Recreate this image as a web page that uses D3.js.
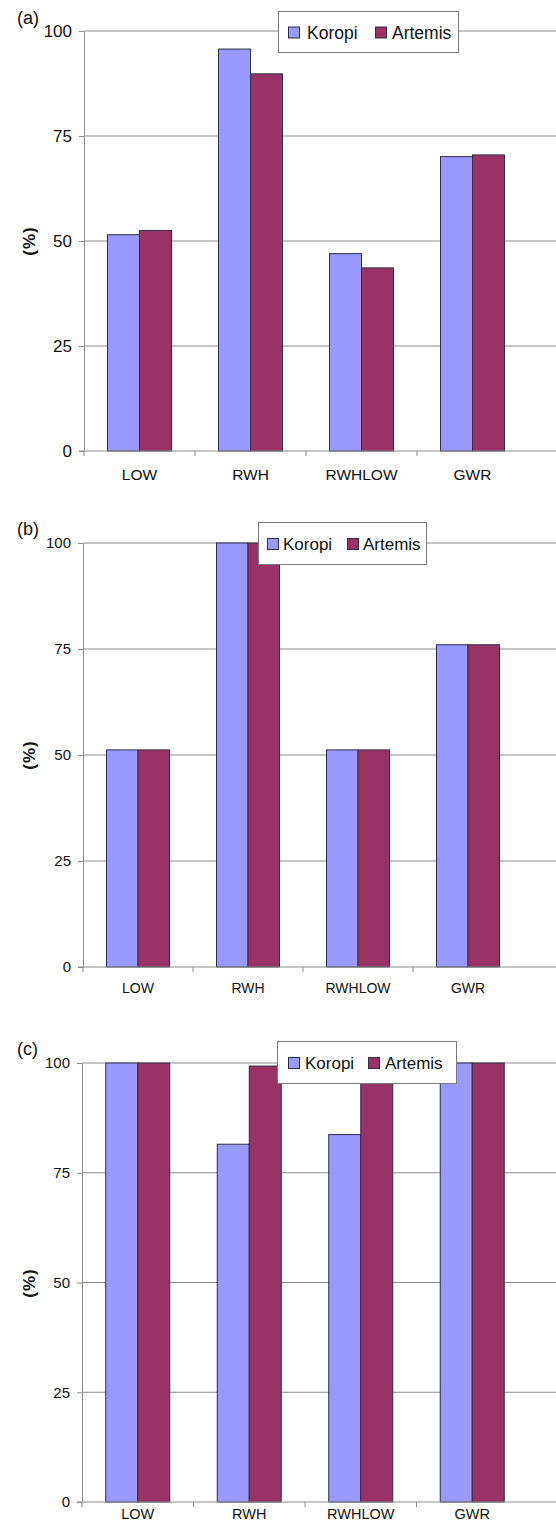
<!DOCTYPE html>
<html>
<head>
<meta charset="utf-8">
<script src="https://cdn.jsdelivr.net/npm/d3@7"></script>
<style>
  html, body { margin: 0; padding: 0; background: #ffffff; }
  svg { display: block; font-family: "Liberation Sans", Arial, sans-serif; }
</style>
</head>
<body>
<svg id="chart" width="556" height="1530"></svg>
<script>
// ---- data ----
const categories = ["LOW", "RWH", "RWHLOW", "GWR"];
const seriesNames = ["Koropi", "Artemis"];
const yTicks = [0, 25, 50, 75, 100];
const panelLabels = ["(a)", "(b)", "(c)"];
const yAxisTitle = "(%)";

const koropiA = [51.5, 95.7, 47.0, 70.1];
const artemisA = [52.5, 89.8, 43.6, 70.5];
const koropiB = [51.2, 100, 51.2, 76];
const artemisB = [51.2, 100, 51.2, 76];
const koropiC = [100, 81.5, 83.7, 100];
const artemisC = [100, 99.3, 99.0, 100];

const colors = { Koropi: "#9999ff", Artemis: "#993366" };

// ---- layout (per panel) ----
const panels = [
  { label: panelLabels[0], k: koropiA, a: artemisA,
    x0: 84, bw: 111, yTop: 31, yBot: 451, barW: 32,
    tickFont: 17, catFont: 15.5, catBase: 480, legFont: 17.5,
    labelBase: 24, titleY: 241,
    leg: { x: 278, y: 11, w: 180, h: 41, s1: 288, t1: 307, s2: 375, t2: 392 } },
  { label: panelLabels[1], k: koropiB, a: artemisB,
    x0: 83, bw: 110, yTop: 543, yBot: 967, barW: 31.5,
    tickFont: 15, catFont: 14, catBase: 993, legFont: 17,
    labelBase: 535, titleY: 755,
    leg: { x: 258, y: 522, w: 168, h: 42, s1: 267, t1: 283, s2: 347, t2: 363 } },
  { label: panelLabels[2], k: koropiC, a: artemisC,
    x0: 82, bw: 111.5, yTop: 1063, yBot: 1502, barW: 32,
    tickFont: 15, catFont: 14.5, catBase: 1519, legFont: 17,
    labelBase: 1055, titleY: 1283,
    leg: { x: 277, y: 1041, w: 179, h: 42, s1: 288, t1: 305, s2: 368, t2: 385 } }
];

const svg = d3.select("#chart");
const W = 556;
const gridColor = "#8c8c8c";

panels.forEach(p => {
  const g = svg.append("g");
  const x = d3.scaleBand().domain(categories).range([p.x0, p.x0 + p.bw * categories.length]);
  const sub = d3.scaleBand().domain(seriesNames)
    .range([(p.bw - 2 * p.barW) / 2, (p.bw + 2 * p.barW) / 2]);
  const y = d3.scaleLinear().domain([0, 100]).range([p.yBot, p.yTop]);

  // gridlines
  g.append("g").selectAll("line").data(yTicks.filter(d => d > 0)).join("line")
    .attr("x1", p.x0).attr("x2", W)
    .attr("y1", d => y(d)).attr("y2", d => y(d))
    .attr("stroke", gridColor).attr("stroke-width", 1);

  // bars
  const rows = categories.map((c, i) => ({ c, Koropi: p.k[i], Artemis: p.a[i] }));
  g.append("g").selectAll("g").data(rows).join("g")
    .attr("transform", d => `translate(${x(d.c)},0)`)
    .selectAll("rect").data(d => seriesNames.map(s => ({ s, v: d[s] }))).join("rect")
    .attr("x", d => sub(d.s)).attr("width", sub.bandwidth())
    .attr("y", d => y(d.v)).attr("height", d => y(0) - y(d.v))
    .attr("fill", d => colors[d.s])
    .attr("stroke", "#2e2e48").attr("stroke-width", 1);

  // y axis
  const yAxis = d3.axisLeft(y).tickValues(yTicks).tickSize(5).tickPadding(7).tickSizeOuter(0);
  const ya = g.append("g").attr("transform", `translate(${p.x0},0)`).call(yAxis);
  ya.select(".domain").attr("stroke", gridColor);
  ya.selectAll(".tick line").attr("stroke", gridColor);
  ya.selectAll(".tick text").attr("font-size", p.tickFont).attr("fill", "#111")
    .attr("font-family", "Liberation Sans, Arial, sans-serif");

  // x axis line
  g.append("line").attr("x1", p.x0 - 5).attr("x2", W)
    .attr("y1", y(0)).attr("y2", y(0)).attr("stroke", gridColor);
  g.append("g").selectAll("line").data(categories).join("line")
    .attr("x1", d => x(d)).attr("x2", d => x(d))
    .attr("y1", y(0)).attr("y2", y(0) + 5).attr("stroke", gridColor);
  g.append("g").selectAll("text").data(categories).join("text")
    .attr("x", d => x(d) + x.bandwidth() / 2).attr("y", p.catBase)
    .attr("text-anchor", "middle").attr("font-size", p.catFont).attr("fill", "#111")
    .text(d => d);

  // y title
  g.append("text").attr("transform", `translate(35,${p.titleY}) rotate(-90)`)
    .attr("text-anchor", "middle").attr("font-size", 17).attr("font-weight", "bold")
    .attr("letter-spacing", 1).attr("fill", "#111").text(yAxisTitle);

  // panel label
  g.append("text").attr("x", 17).attr("y", p.labelBase)
    .attr("font-size", 18).attr("fill", "#111").text(p.label);

  // legend
  const L = p.leg;
  g.append("rect").attr("x", L.x + 0.5).attr("y", L.y + 0.5).attr("width", L.w).attr("height", L.h)
    .attr("fill", "#ffffff").attr("stroke", "#7a7a7a").attr("stroke-width", 1);
  const cy = L.y + L.h / 2 + 1;
  [[seriesNames[0], L.s1, L.t1], [seriesNames[1], L.s2, L.t2]].forEach(([name, sx, tx]) => {
    g.append("rect").attr("x", sx + 0.5).attr("y", cy - 6 + 0.5).attr("width", 11).attr("height", 11)
      .attr("fill", colors[name]).attr("stroke", "#2e2e48").attr("stroke-width", 1);
    g.append("text").attr("x", tx).attr("y", cy).attr("dy", "0.35em")
      .attr("font-size", p.legFont).attr("fill", "#111").text(name);
  });
});
</script>
</body>
</html>
